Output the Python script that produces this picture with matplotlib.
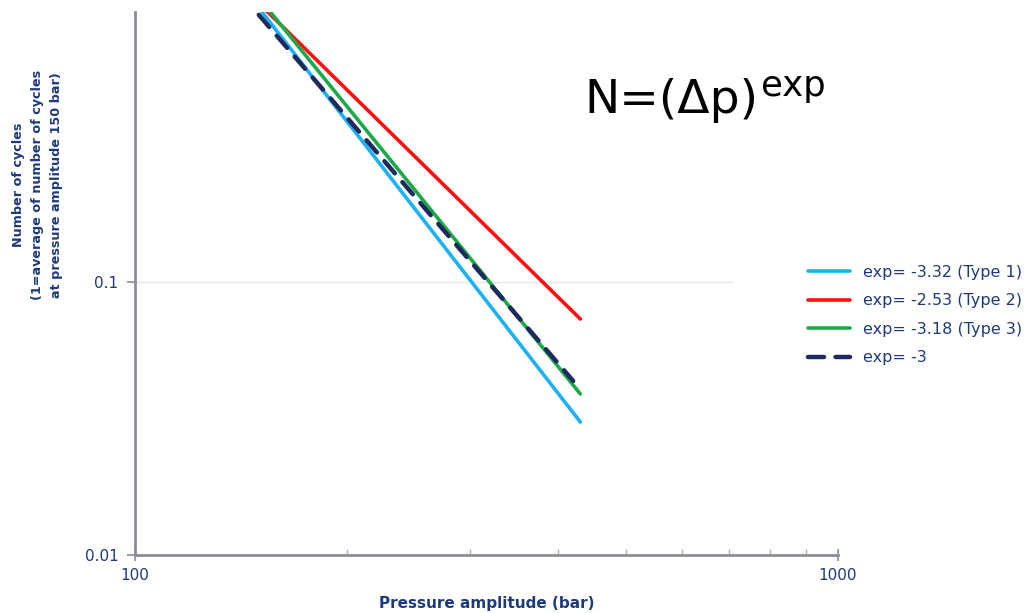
import matplotlib
matplotlib.use("Agg")
import matplotlib.pyplot as plt
from matplotlib.ticker import FixedLocator, NullFormatter, FixedFormatter

# Data: each curve is a straight line in log-log space
labels = ["exp= -3.32 (Type 1)", "exp= -2.53 (Type 2)", "exp= -3.18 (Type 3)", "exp= -3"]
x_start = [150, 150, 150, 150]
x_end = [430, 430, 430, 420]
y_start = [1.01, 1.05, 1.10, 0.952]
y_end = [0.0307, 0.0732, 0.0389, 0.0434]
colors = ["#1AB2F0", "#FF1010", "#1CAA48", "#1C2A5C"]
styles = ["-", "-", "-", (0, (3.6, 2.6))]

xticks_major = [100, 1000]
xtick_labels = ["100", "1000"]
xticks_minor = [200, 300, 400, 500, 600, 700, 800, 900]
yticks = [0.01, 0.1]
ytick_labels = ["0.01", "0.1"]

navy = "#1F3A7A"
axis_gray = "#8A8C9A"

fig = plt.figure(figsize=(10.34, 6.13), dpi=100)
ax = fig.add_axes([135/1034, 1-555/613, (838-135)/1034, (555-12)/613])
ax.set_xscale("log")
ax.set_yscale("log")
ax.set_xlim(100, 1000)
ax.set_ylim(0.01, 0.975)

for i in range(len(labels)):
    ax.plot([x_start[i], x_end[i]], [y_start[i], y_end[i]], color=colors[i],
            lw=3.2 if i == 3 else 2.6, ls=styles[i], label=labels[i],
            solid_capstyle="round", dash_capstyle="round")

# faint gridline at 0.1
ax.axhline(0.1, xmin=0, xmax=(733-135)/703, color="#E4E6EA", lw=1, zorder=0)

for s in ["top", "right"]:
    ax.spines[s].set_visible(False)
for s in ["left", "bottom"]:
    ax.spines[s].set_color(axis_gray)
    ax.spines[s].set_linewidth(2)

ax.xaxis.set_major_locator(FixedLocator(xticks_major))
ax.xaxis.set_major_formatter(FixedFormatter(xtick_labels))
ax.xaxis.set_minor_locator(FixedLocator(xticks_minor))
ax.xaxis.set_minor_formatter(NullFormatter())
ax.yaxis.set_major_locator(FixedLocator(yticks))
ax.yaxis.set_major_formatter(FixedFormatter(ytick_labels))
ax.yaxis.set_minor_locator(FixedLocator([]))

ax.tick_params(axis="x", which="major", direction="inout", length=8, width=1.2,
               color=axis_gray, labelcolor=navy, labelsize=11, pad=5)
ax.tick_params(axis="x", which="minor", direction="in", length=4, width=1,
               color="#B0B2BC")
ax.tick_params(axis="y", which="major", direction="out", length=6, width=1.2,
               color=axis_gray, labelcolor=navy, labelsize=11, pad=6)

ax.set_xlabel("Pressure amplitude (bar)", fontsize=11, fontweight="bold",
              color=navy, labelpad=10)
fig.text(38/1034, 1-185/613,
         "Number of cycles\n(1=average of number of cycles\nat pressure amplitude 150 bar)",
         rotation=90, ha="center", va="center", fontsize=9.2, fontweight="bold",
         color=navy, linespacing=1.6, multialignment="center")

# formula
fig.text(584/1034, 1-113/613, "N=(Δp)", fontsize=34, family="DejaVu Sans",
         color="black", ha="left", va="baseline")
fig.text(761/1034, 1-96/613, "exp", fontsize=25.5, family="DejaVu Sans",
         color="black", ha="left", va="baseline")

leg = fig.legend(loc="center left", bbox_to_anchor=(794/1034, 1-315/613),
                 frameon=False, fontsize=11.5, handlelength=2.6,
                 labelspacing=0.85, handletextpad=0.8)
for t in leg.get_texts():
    t.set_color(navy)

fig.savefig("out.png", dpi=100)
